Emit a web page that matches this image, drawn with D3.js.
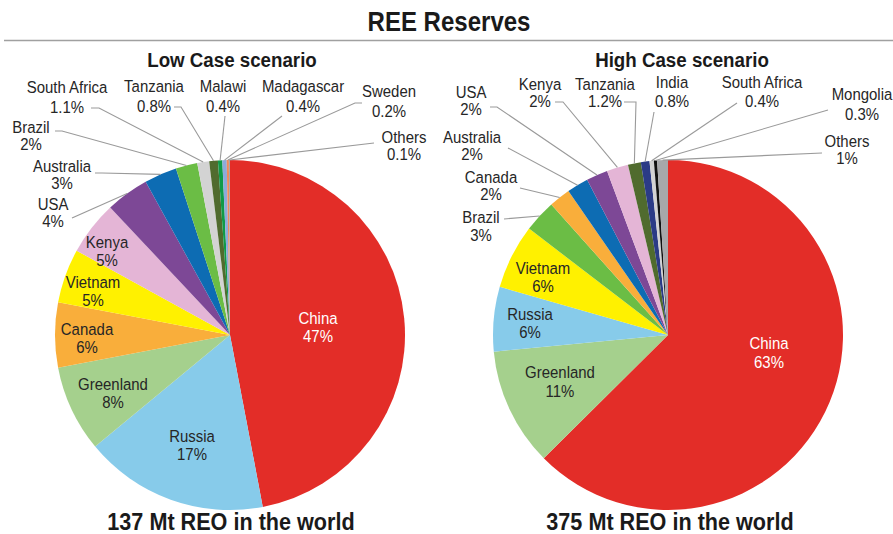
<!DOCTYPE html>
<html>
<head>
<meta charset="utf-8">
<script src="https://cdn.jsdelivr.net/npm/d3@7/dist/d3.min.js"></script>
<style>
  html, body { margin: 0; padding: 0; background: #fff; }
  svg { display: block; }
  text { font-family: "Liberation Sans", Arial, sans-serif; }
</style>
</head>
<body>
<svg id="chart" width="893" height="534"></svg>
<script>
// Share of world rare-earth reserves (%), clockwise from 12 o'clock
const lowCountries = ["China", "Russia", "Greenland", "Canada", "Vietnam", "Kenya", "USA",
  "Australia", "Brazil", "South Africa", "Tanzania", "Malawi", "Madagascar", "Sweden", "Others"];
const lowShares = [47, 17, 8, 6, 5, 5, 4, 3, 2, 1.1, 0.8, 0.4, 0.4, 0.2, 0.1];

const highCountries = ["China", "Greenland", "Russia", "Vietnam", "Brazil", "Canada", "Australia",
  "USA", "Kenya", "Tanzania", "India", "South Africa", "Mongolia", "Others"];
const highShares = [63, 11, 6, 6, 3, 2, 2, 2, 2, 1.2, 0.8, 0.4, 0.3, 1];

const titleText = "REE Reserves";
const scenarioTitles = ["Low Case scenario", "High Case scenario"];
const totals = ["137 Mt REO in the world", "375 Mt REO in the world"];

// Colour per country
const palette = {
  "China": "#E32D28", "Russia": "#87CBEA", "Greenland": "#A5D08D", "Canada": "#F9AE3B",
  "Vietnam": "#FFF100", "Kenya": "#E4B5D6", "USA": "#7D4896", "Australia": "#0D6CB3",
  "Brazil": "#6BBD45", "South Africa": "#D3D3D3", "Tanzania": "#506B2E", "Malawi": "#0F9A48",
  "Madagascar": "#8DAADB", "Sweden": "#EE8C5C", "Others": "#A7A8AA", "India": "#2B3B86",
  "Mongolia": "#111111"
};

// Label placement: text centre x, baselines of the two lines, optional leader start/elbow
const lowLayout = {
  "China":        { x: 318, y1: 324, y2: 342, fill: "#fff" },
  "Russia":       { x: 192, y1: 442, y2: 460 },
  "Greenland":    { x: 113, y1: 390, y2: 408 },
  "Canada":       { x: 87,  y1: 335, y2: 353 },
  "Vietnam":      { x: 93,  y1: 288, y2: 306 },
  "Kenya":        { x: 107, y1: 248, y2: 266 },
  "USA":          { x: 53,  y1: 210, y2: 227, lead: [[72, 218]] },
  "Australia":    { x: 62,  y1: 172, y2: 189, lead: [[95, 173], [102, 173]] },
  "Brazil":       { x: 31,  y1: 133, y2: 150, lead: [[55, 131], [62, 131]] },
  "South Africa": { x: 67,  y1: 93,  y2: 113, lead: [[91, 108], [99, 108]] },
  "Tanzania":     { x: 154, y1: 92,  y2: 112, lead: [[174, 107], [181, 107]] },
  "Malawi":       { x: 223, y1: 92,  y2: 112, lead: [[225, 116]] },
  "Madagascar":   { x: 303, y1: 92,  y2: 112, lead: [[282, 116]] },
  "Sweden":       { x: 389, y1: 97,  y2: 117, lead: [[362, 103], [355, 103]] },
  "Others":       { x: 404, y1: 143, y2: 160, lead: [[374, 143]] }
};

const highLayout = {
  "China":        { x: 769, y1: 349, y2: 368, fill: "#fff" },
  "Greenland":    { x: 560, y1: 378, y2: 397 },
  "Russia":       { x: 530, y1: 320, y2: 338 },
  "Vietnam":      { x: 543, y1: 274, y2: 292 },
  "Brazil":       { x: 481, y1: 223, y2: 241, lead: [[504, 219]] },
  "Canada":       { x: 491, y1: 183, y2: 200, lead: [[520, 188]] },
  "Australia":    { x: 472, y1: 143, y2: 160, lead: [[508, 148]] },
  "USA":          { x: 471, y1: 98,  y2: 115, lead: [[490, 107], [497, 107]] },
  "Kenya":        { x: 540, y1: 90,  y2: 107, lead: [[555, 102], [563, 102]] },
  "Tanzania":     { x: 605, y1: 90,  y2: 107, lead: [[624, 102], [636, 102]] },
  "India":        { x: 672, y1: 88,  y2: 107, lead: [[654, 112]] },
  "South Africa": { x: 762, y1: 88,  y2: 107, lead: [[737, 103]] },
  "Mongolia":     { x: 862, y1: 100, y2: 120, lead: [[828, 110]] },
  "Others":       { x: 847, y1: 147, y2: 164, lead: [[822, 153]] }
};

const svg = d3.select("#chart");
svg.append("rect").attr("width", 893).attr("height", 534).attr("fill", "#fff");

// Condensed text: drawn at size, then narrowed horizontally around its anchor
function drawText(parent, x, y, str, size, sx, opts = {}) {
  return parent.append("text")
    .attr("transform", `translate(${x},${y}) scale(${sx},1)`)
    .attr("text-anchor", "middle")
    .attr("font-size", size)
    .attr("font-weight", opts.bold ? "bold" : "normal")
    .attr("fill", opts.fill || "#262626")
    .text(str);
}

// Heading and rule
drawText(svg, 449, 31, titleText, 27, 0.89, { bold: true, fill: "#1a1a1a" });
svg.append("line").attr("x1", 4).attr("x2", 893).attr("y1", 40.5).attr("y2", 40.5)
  .attr("stroke", "#a0a0a0").attr("stroke-width", 1.5);

const panels = [
  { names: lowCountries, values: lowShares, layout: lowLayout, cx: 230, cy: 335, r: 175,
    title: scenarioTitles[0], titleX: 232, total: totals[0], totalX: 231 },
  { names: highCountries, values: highShares, layout: highLayout, cx: 668, cy: 335, r: 175,
    title: scenarioTitles[1], titleX: 682, total: totals[1], totalX: 670 }
];

const fmt = v => String(v) + "%";

panels.forEach(p => {
  const data = p.names.map((n, i) => ({ name: n, value: p.values[i] }));
  const pie = d3.pie().sort(null).value(d => d.value);
  const arcs = pie(data);
  const arc = d3.arc().innerRadius(0).outerRadius(p.r);

  const g = svg.append("g").attr("transform", `translate(${p.cx},${p.cy})`);
  g.selectAll("path").data(arcs).join("path")
    .attr("d", arc)
    .attr("fill", d => palette[d.data.name]);

  // Scenario heading and total
  drawText(svg, p.titleX, 67, p.title, 19.5, 0.96, { bold: true, fill: "#1a1a1a" });
  drawText(svg, p.totalX, 530, p.total, 23, 0.94, { bold: true, fill: "#1a1a1a" });

  // Leader lines
  const leaderLine = d3.line();
  arcs.forEach(a => {
    const L = p.layout[a.data.name];
    if (!L || !L.lead) return;
    const mid = (a.startAngle + a.endAngle) / 2;
    const end = [p.cx + p.r * Math.sin(mid), p.cy - p.r * Math.cos(mid)];
    svg.append("path").attr("d", leaderLine([...L.lead, end]))
      .attr("fill", "none").attr("stroke", "#9a9a9a").attr("stroke-width", 1.1);
  });

  // Labels
  arcs.forEach(a => {
    const L = p.layout[a.data.name];
    if (!L) return;
    drawText(svg, L.x, L.y1, a.data.name, 17, 0.88, { fill: L.fill });
    drawText(svg, L.x, L.y2, fmt(a.data.value), 17, 0.88, { fill: L.fill });
  });
});
</script>
</body>
</html>
